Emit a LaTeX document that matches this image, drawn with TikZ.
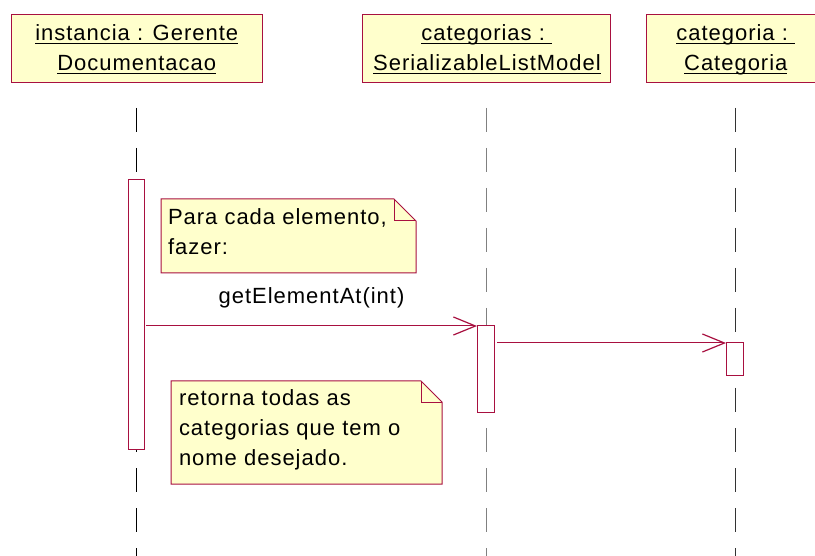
\documentclass[tikz,border=0pt]{standalone}
\usepackage{fontspec}
\setmainfont{Liberation Sans}[LetterSpace=4.5]
\usetikzlibrary{arrows.meta}
\definecolor{rose}{RGB}{168,16,64}
\definecolor{notefill}{RGB}{255,255,204}
\newcommand\ulin[1]{\setbox0\hbox{#1}\rlap{\rule[-2.5pt]{\wd0}{0.9pt}}\box0}
\begin{document}
\begin{tikzpicture}[x=0.75pt,y=-0.75pt,
  every node/.style={font=\fontsize{16.5pt}{22.5pt}\selectfont, inner sep=0pt, outer sep=0pt},
  objbox/.style={draw=rose, fill=notefill, line width=0.75pt, minimum height=50.8pt},
  actbox/.style={draw=rose, fill=white, line width=0.75pt},
  lifeline/.style={line width=0.75pt, dash pattern=on 18pt off 12pt},
  msg/.style={draw=rose, line width=0.75pt, -{Straight Barb[length=16.5pt,width=13.5pt,line width=0.9pt]}},
  notebox/.style={draw=rose, fill=notefill, line width=0.75pt, line join=miter},
  txt/.style={anchor=base, text=black},
  notetxt/.style={anchor=base west, text=black},
  ]
\useasboundingbox (0,0) rectangle (815,556);
\fill[white] (0,0) rectangle (815,556);
\clip (0,0) rectangle (815,556);

% object boxes
\node[objbox, minimum width=188.25pt] (o1) at (137.2,48.2) {};
\node[objbox, minimum width=185.8pt] (o2) at (486.2,48.2) {};
\node[objbox, minimum width=134.25pt] (o3) at (735.5,48.2) {};
\node[txt] (t1a) at (136.7,40.7) {\ulin{instancia : Gerente}};
\node[txt] (t1b) at (136.7,70.7) {\ulin{Documentacao}};
\node[txt] (t2a) at (486.7,40.7) {\ulin{categorias :\ }};
\node[txt] (t2b) at (487,70.7) {\ulin{SerializableListModel}};
\node[txt] (t3a) at (735.7,40.7) {\ulin{categoria :\ }};
\node[txt] (t3b) at (735.8,70.7) {\ulin{Categoria}};

% lifelines
\coordinate (l1t) at (136,108); \coordinate (l1b) at (136,560);
\coordinate (l2t) at (486,108); \coordinate (l2b) at (486,560);
\coordinate (l3t) at (735,108); \coordinate (l3b) at (735,560);
\draw[lifeline, black] (l1t) -- (l1b);
\draw[lifeline, gray] (l2t) -- (l2b);
\draw[lifeline, black!80] (l3t) -- (l3b);

% activations
\node[actbox, minimum width=12pt, minimum height=201.75pt] (a1) at (136,314.5) {};
\node[actbox, minimum width=12.75pt, minimum height=64.5pt] (a2) at (485.5,369) {};
\node[actbox, minimum width=12.75pt, minimum height=24.75pt] (a3) at (734.5,359.5) {};

% notes
\draw[notebox] (161,199) -- (394,199) -- (416,221) -- (416,273) -- (161,273) -- cycle;
\draw[notebox, fill=none] (394,199) -- (394,221) -- (416,221);
\node[notetxt] (n1a) at (168,225) {Para cada elemento,};
\node[notetxt] (n1b) at (168,255) {fazer:};

\draw[notebox] (171,381) -- (421,381) -- (442,402) -- (442,484) -- (171,484) -- cycle;
\draw[notebox, fill=none] (421,381) -- (421,402) -- (442,402);
\node[notetxt] (n2a) at (179,405.7) {retorna todas as};
\node[notetxt] (n2b) at (179,435.7) {categorias que tem o};
\node[notetxt] (n2c) at (179,465.7) {nome desejado.};

% messages
\draw[msg] ([xshift=1.5pt]a1.east |- a2.north) -- (a2.north west)
  node[midway, anchor=base, yshift=16.5pt, text=black] (m1) {getElementAt(int)};
\draw[msg] ([xshift=2.25pt]a2.east |- a3.north) -- (a3.north west);
\end{tikzpicture}
\end{document}
